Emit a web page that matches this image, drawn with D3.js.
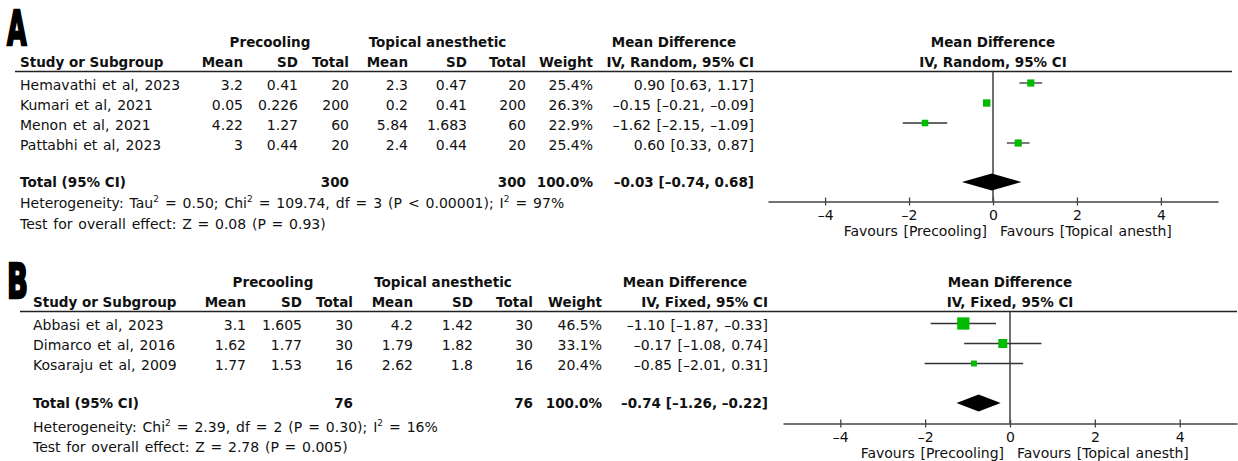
<!DOCTYPE html>
<html>
<head>
<meta charset="utf-8">
<script src="https://cdn.jsdelivr.net/npm/d3@7"></script>
<style>
  html, body { margin: 0; padding: 0; background: #fff; }
  svg { display: block; }
  text { font-family: "DejaVu Sans", Verdana, sans-serif; fill: #111; }
</style>
</head>
<body>
<svg id="chart" width="1238" height="461"></svg>
<script>
// ---------------- DATA ----------------
const panelLabels = ["A", "B"];
const methodLabels = ["IV, Random, 95% CI", "IV, Fixed, 95% CI"];
const tickValues = [-4, -2, 0, 2, 4];
const favoursLabels = ["Favours [Precooling]", "Favours [Topical anesth]"];
const groupLabels = ["Precooling", "Topical anesthetic", "Mean Difference"];
const colHeaders = ["Mean", "SD", "Total", "Mean", "SD", "Total", "Weight"];

// Panel A
const studiesA = ["Hemavathi et al, 2023", "Kumari et al, 2021", "Menon et al, 2021", "Pattabhi et al, 2023"];
const preMeanA = ["3.2", "0.05", "4.22", "3"];
const preSDA = ["0.41", "0.226", "1.27", "0.44"];
const preNA = [20, 200, 60, 20];
const topMeanA = ["2.3", "0.2", "5.84", "2.4"];
const topSDA = ["0.47", "0.41", "1.683", "0.44"];
const topNA = [20, 200, 60, 20];
const weightA = [25.4, 26.3, 22.9, 25.4];
const mdA = [0.90, -0.15, -1.62, 0.60];
const loA = [0.63, -0.21, -2.15, 0.33];
const hiA = [1.17, -0.09, -1.09, 0.87];
const totalNA = [300, 300];
const totalMdA = [-0.03, -0.74, 0.68]; // estimate, lower, upper
const hetA = [["Heterogeneity: Tau", ""], ["2", "sup"], [" = 0.50; Chi", ""], ["2", "sup"], [" = 109.74, df = 3 (P < 0.00001); I", ""], ["2", "sup"], [" = 97%", ""]];
const testA = "Test for overall effect: Z = 0.08 (P = 0.93)";

// Panel B
const studiesB = ["Abbasi et al, 2023", "Dimarco et al, 2016", "Kosaraju et al, 2009"];
const preMeanB = ["3.1", "1.62", "1.77"];
const preSDB = ["1.605", "1.77", "1.53"];
const preNB = [30, 30, 16];
const topMeanB = ["4.2", "1.79", "2.62"];
const topSDB = ["1.42", "1.82", "1.8"];
const topNB = [30, 30, 16];
const weightB = [46.5, 33.1, 20.4];
const mdB = [-1.10, -0.17, -0.85];
const loB = [-1.87, -1.08, -2.01];
const hiB = [-0.33, 0.74, 0.31];
const totalNB = [76, 76];
const totalMdB = [-0.74, -1.26, -0.22];
const hetB = [["Heterogeneity: Chi", ""], ["2", "sup"], [" = 2.39, df = 2 (P = 0.30); I", ""], ["2", "sup"], [" = 16%", ""]];
const testB = "Test for overall effect: Z = 2.78 (P = 0.005)";

// ---------------- LAYOUT ----------------
const layouts = [
  { labelX: 7, labelY: 45, labelScale: 0.55,
    studyX: 20, cols: [243, 298, 349, 408, 467, 526, 593, 754],
    ruleX: [15, 1232], ruleY: 71.5, h1: 47, h2: 67, row0: 89.5, step: 20,
    totalY: 187, hetY: 208, testY: 229,
    groupCenters: [270, 437.5, 674],
    xRange: [768, 1218], xDomain: [-5.36, 5.36], axisY: 201.5 },
  { labelX: 7, labelY: 298, labelScale: 0.6,
    studyX: 33, cols: [246, 302, 353, 413, 473, 533, 602, 768],
    ruleX: [20, 1237], ruleY: 311.5, h1: 287, h2: 307, row0: 330, step: 20,
    totalY: 408, hetY: 432, testY: 452,
    groupCenters: [273, 443, 685],
    xRange: [783, 1237], xDomain: [-5.35, 5.35], axisY: 423.5 }
];

const panelsData = [
  { studies: studiesA, preMean: preMeanA, preSD: preSDA, preN: preNA, topMean: topMeanA, topSD: topSDA, topN: topNA,
    weight: weightA, md: mdA, lo: loA, hi: hiA, totalN: totalNA, totalMd: totalMdA, het: hetA, test: testA },
  { studies: studiesB, preMean: preMeanB, preSD: preSDB, preN: preNB, topMean: topMeanB, topSD: topSDB, topN: topNB,
    weight: weightB, md: mdB, lo: loB, hi: hiB, totalN: totalNB, totalMd: totalMdB, het: hetB, test: testB }
];

const fmt = v => (v < 0 ? "\u2013" : "") + Math.abs(v).toFixed(2);
const ciText = (m, l, h) => `${fmt(m)} [${fmt(l)}, ${fmt(h)}]`;
const tickFmt = d => (d < 0 ? "\u2013" : "") + Math.abs(d);

const svg = d3.select("#chart");
const NORMAL = 14, BOLD = 13.5, WS = 1.2;
const sizeScale = d3.scaleLinear().domain([0, 50]).range([1, 13.1]);

panelsData.forEach((D, p) => {
  const L = layouts[p];
  const g = svg.append("g");
  const x = d3.scaleLinear().domain(L.xDomain).range(L.xRange);
  const rowY = i => L.row0 + i * L.step;

  // Panel letter
  g.append("text")
    .attr("transform", `translate(${L.labelX},${L.labelY}) scale(${L.labelScale},1.05)`)
    .attr("font-family", "'DejaVu Sans Condensed', 'DejaVu Sans'")
    .attr("font-weight", "bold").attr("font-size", 46)
    .style("fill", "#000").attr("stroke", "#000").attr("stroke-width", 2.4)
    .text(panelLabels[p]);

  // Group headers
  g.selectAll(null).data(groupLabels).join("text")
    .attr("x", (d, i) => L.groupCenters[i]).attr("y", L.h1)
    .attr("text-anchor", "middle").attr("font-weight", "bold").attr("font-size", BOLD)
    .text(d => d);
  g.append("text").attr("x", x(0)).attr("y", L.h1)
    .attr("text-anchor", "middle").attr("font-weight", "bold").attr("font-size", BOLD)
    .text(groupLabels[2]);

  // Column headers
  g.append("text").attr("x", L.studyX).attr("y", L.h2)
    .attr("font-weight", "bold").attr("font-size", BOLD).text("Study or Subgroup");
  g.selectAll(null).data(colHeaders.concat([methodLabels[p]])).join("text")
    .attr("x", (d, i) => L.cols[i]).attr("y", L.h2)
    .attr("text-anchor", "end").attr("font-weight", "bold").attr("font-size", BOLD)
    .text(d => d);
  g.append("text").attr("x", x(0)).attr("y", L.h2)
    .attr("text-anchor", "middle").attr("font-weight", "bold").attr("font-size", BOLD)
    .text(methodLabels[p]);

  // Header rule
  g.append("line").attr("x1", L.ruleX[0]).attr("x2", L.ruleX[1])
    .attr("y1", L.ruleY).attr("y2", L.ruleY).attr("stroke", "#222").attr("stroke-width", 1.4);

  // Study rows
  D.studies.forEach((s, i) => {
    const cells = [D.preMean[i], D.preSD[i], D.preN[i], D.topMean[i], D.topSD[i], D.topN[i],
      D.weight[i].toFixed(1) + "%", ciText(D.md[i], D.lo[i], D.hi[i])];
    g.append("text").attr("x", L.studyX).attr("y", rowY(i)).attr("font-size", NORMAL)
      .attr("word-spacing", WS).text(s);
    g.selectAll(null).data(cells).join("text")
      .attr("x", (d, j) => L.cols[j]).attr("y", rowY(i))
      .attr("text-anchor", "end").attr("font-size", NORMAL).attr("word-spacing", WS).text(d => d);
  });

  // Total row
  g.append("text").attr("x", L.studyX).attr("y", L.totalY)
    .attr("font-weight", "bold").attr("font-size", BOLD).text("Total (95% CI)");
  const totCells = [[2, D.totalN[0]], [5, D.totalN[1]], [6, "100.0%"], [7, ciText(D.totalMd[0], D.totalMd[1], D.totalMd[2])]];
  g.selectAll(null).data(totCells).join("text")
    .attr("x", d => L.cols[d[0]]).attr("y", L.totalY)
    .attr("text-anchor", "end").attr("font-weight", "bold").attr("font-size", BOLD)
    .text(d => d[1]);

  // Heterogeneity
  const het = g.append("text").attr("x", L.studyX).attr("y", L.hetY)
    .attr("font-size", NORMAL).attr("word-spacing", 1.5);
  let raised = false;
  D.het.forEach(([t, kind]) => {
    const ts = het.append("tspan").text(t);
    if (kind === "sup") { ts.attr("font-size", 9).attr("dy", -6); raised = true; }
    else if (raised) { ts.attr("dy", 6); raised = false; }
  });
  g.append("text").attr("x", L.studyX).attr("y", L.testY).attr("font-size", NORMAL)
    .attr("word-spacing", 1.3).text(D.test);

  // Zero line
  g.append("line").attr("x1", x(0)).attr("x2", x(0))
    .attr("y1", L.ruleY).attr("y2", L.axisY).attr("stroke", "#333").attr("stroke-width", 1.4);

  // CI lines
  g.selectAll(null).data(D.studies).join("line")
    .attr("x1", (d, i) => x(D.lo[i])).attr("x2", (d, i) => x(D.hi[i]))
    .attr("y1", (d, i) => rowY(i) - 6.5).attr("y2", (d, i) => rowY(i) - 6.5)
    .attr("stroke", "#333").attr("stroke-width", 1.3);

  // Squares
  g.selectAll(null).data(D.studies).join("rect")
    .attr("x", (d, i) => x(D.md[i]) - sizeScale(D.weight[i]) / 2)
    .attr("y", (d, i) => rowY(i) - 6.5 - sizeScale(D.weight[i]) / 2)
    .attr("width", (d, i) => sizeScale(D.weight[i]))
    .attr("height", (d, i) => sizeScale(D.weight[i]))
    .attr("fill", "#00bb00");

  // Diamond
  const dy = L.totalY - 5, hh = 8.5;
  g.append("path")
    .attr("d", `M${x(D.totalMd[1])},${dy} L${x(D.totalMd[0])},${dy - hh} L${x(D.totalMd[2])},${dy} L${x(D.totalMd[0])},${dy + hh} Z`)
    .attr("fill", "#000");

  // Axis
  const axis = d3.axisBottom(x).tickValues(tickValues).tickFormat(tickFmt)
    .tickSize(4).tickSizeOuter(0).tickPadding(4.5);
  const ax = g.append("g").attr("transform", `translate(0,${L.axisY})`).call(axis);
  ax.select(".domain").attr("stroke", "#444").attr("stroke-width", 1.4);
  ax.selectAll(".tick line").attr("y1", -4).attr("stroke", "#444").attr("stroke-width", 1.3);
  ax.selectAll(".tick text").attr("font-size", NORMAL)
    .attr("font-family", "'DejaVu Sans', Verdana, sans-serif").style("fill", "#111");
  ax.attr("font-family", null).attr("font-size", null);

  // Favours
  g.append("text").attr("x", x(0) - 6).attr("y", L.axisY + 34.5)
    .attr("text-anchor", "end").attr("font-size", NORMAL).attr("word-spacing", WS).text(favoursLabels[0]);
  g.append("text").attr("x", x(0) + 7).attr("y", L.axisY + 34.5)
    .attr("font-size", NORMAL).attr("word-spacing", WS).text(favoursLabels[1]);
});
</script>
</body>
</html>
